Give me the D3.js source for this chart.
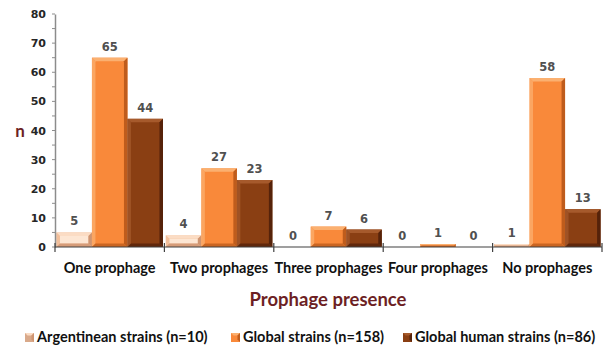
<!DOCTYPE html>
<html>
<head>
<meta charset="utf-8">
<script src="https://cdn.jsdelivr.net/npm/d3@7"></script>
<style>
  html, body { margin: 0; padding: 0; background: #fff; }
  svg { display: block; }
</style>
</head>
<body>
<svg id="chart" width="615" height="350"></svg>
<script>
// Prophage counts per strain group
const categories = ["One prophage", "Two prophages", "Three prophages", "Four prophages", "No prophages"];
const seriesNames = ["Argentinean strains (n=10)", "Global strains (n=158)", "Global human strains (n=86)"];
const argentinean = [5, 4, 0, 0, 1];
const globalStrains = [65, 27, 7, 1, 58];
const globalHuman = [44, 23, 6, 0, 13];
const yTicks = [0, 10, 20, 30, 40, 50, 60, 70, 80];

const seriesValues = [argentinean, globalStrains, globalHuman];

// face / light edge / dark edge per series
const palette = [
  { face: "#f1bf9b", light: "#fbdcc4", dark: "#cf9470", inner: "#fde6d3" },
  { face: "#f9893a", light: "#fbb070", dark: "#bf5c1c", inner: "#f9893a" },
  { face: "#8a3f13", light: "#a65a2c", dark: "#55220a", inner: "#8a3f13" }
];

const svg = d3.select("#chart");
const margin = { left: 55, right: 13, top: 14, bottom: 103 };
const W = 615, H = 350;
const plotBottom = H - margin.bottom;

const x = d3.scaleBand().domain(categories).range([margin.left, W - margin.right]).paddingInner(0).paddingOuter(0);
const inner = d3.scaleBand().domain(d3.range(seriesNames.length)).range([0, x.bandwidth()]).paddingOuter(0.04).paddingInner(0);
const y = d3.scaleLinear().domain([0, 80]).range([plotBottom, margin.top]);

const numFont = "'DejaVu Sans', Verdana, sans-serif";
const txtFont = "Lato, 'Open Sans', sans-serif";

// bars with bevelled edges
const bev = 3.5;
categories.forEach((cat, ci) => {
  seriesValues.forEach((vals, si) => {
    const v = vals[ci];
    const x0 = x(cat) + inner(si);
    const w = inner.bandwidth();
    const y0 = y(v), y1 = y(0);
    const h = y1 - y0;
    const c = palette[si];
    const g = svg.append("g");
    if (h > 0) {
      const b = Math.min(bev, h / 2, w / 2);
      g.append("rect").attr("x", x0).attr("y", y0).attr("width", w).attr("height", h).attr("fill", c.face);
      if (si === 0 && h > 2 * b + 1) {
        g.append("rect").attr("x", x0 + b).attr("y", y0 + b).attr("width", w - 2 * b).attr("height", h - 2 * b).attr("fill", c.inner);
      }
      // top bevel
      g.append("polygon").attr("points", [[x0, y0], [x0 + w, y0], [x0 + w - b, y0 + b], [x0 + b, y0 + b]].join(" ")).attr("fill", c.light);
      // left bevel
      g.append("polygon").attr("points", [[x0, y0], [x0 + b, y0 + b], [x0 + b, y1 - b], [x0, y1]].join(" ")).attr("fill", si === 0 ? c.face : c.light).attr("opacity", 0.75);
      // right bevel
      g.append("polygon").attr("points", [[x0 + w, y0], [x0 + w, y1], [x0 + w - b, y1 - b], [x0 + w - b, y0 + b]].join(" ")).attr("fill", c.dark);
      // bottom bevel
      g.append("polygon").attr("points", [[x0, y1], [x0 + b, y1 - b], [x0 + w - b, y1 - b], [x0 + w, y1]].join(" ")).attr("fill", c.dark).attr("opacity", 0.8);
    }
    // value label
    svg.append("text")
      .attr("x", x0 + w / 2)
      .attr("y", y0 - 7)
      .attr("text-anchor", "middle")
      .attr("font-family", numFont)
      .attr("font-weight", "bold")
      .attr("font-size", 11.5)
      .attr("fill", "#505050")
      .text(v);
  });
});

// y axis
const yAxis = d3.axisLeft(y).tickValues(yTicks).tickSize(0).tickPadding(9);
const yg = svg.append("g").attr("transform", `translate(${margin.left},0)`).call(yAxis);
yg.select(".domain").attr("stroke", "#8c8c8c").attr("stroke-width", 1.5);
yg.selectAll("text").attr("font-family", numFont).attr("font-weight", "bold").attr("font-size", 11).attr("fill", "#262626");
// minor ticks every 5
svg.append("g").selectAll("line").data(d3.range(0, 81, 5)).join("line")
  .attr("x1", margin.left - 3).attr("x2", margin.left)
  .attr("y1", d => y(d)).attr("y2", d => y(d))
  .attr("stroke", "#8c8c8c").attr("stroke-width", 1);

// x axis
const xg = svg.append("g").attr("transform", `translate(0,${plotBottom})`);
xg.append("line").attr("x1", margin.left).attr("x2", W - margin.right).attr("y1", 0).attr("y2", 0)
  .attr("stroke", "#404040").attr("stroke-width", 1.2);
const bounds = categories.map(c => x(c)).concat([x(categories[categories.length - 1]) + x.bandwidth()]);
xg.selectAll("line.tick").data(bounds).join("line").attr("class", "tick")
  .attr("x1", d => d).attr("x2", d => d).attr("y1", -4).attr("y2", 5)
  .attr("stroke", "#404040").attr("stroke-width", 1.2);
xg.selectAll("text").data(categories).join("text")
  .attr("x", d => x(d) + x.bandwidth() / 2)
  .attr("y", 26)
  .attr("text-anchor", "middle")
  .attr("font-family", txtFont).attr("font-weight", "bold").attr("font-size", 14.5)
  .attr("fill", "#111")
  .text(d => d);

// axis titles
svg.append("text").attr("x", 20).attr("y", 137).attr("text-anchor", "middle")
  .attr("font-family", txtFont).attr("font-weight", "bold").attr("font-size", 17)
  .attr("fill", "#6d1f24").text("n");
svg.append("text").attr("x", 328).attr("y", 306).attr("text-anchor", "middle")
  .attr("font-family", txtFont).attr("font-weight", "bold").attr("font-size", 18.5)
  .attr("fill", "#6d1f24").text("Prophage presence");

// legend
const legendX = [25, 231, 403];
const lg = svg.append("g");
seriesNames.forEach((name, i) => {
  const c = palette[i];
  const gx = legendX[i], gy = 333;
  lg.append("rect").attr("x", gx).attr("y", gy).attr("width", 9).attr("height", 9).attr("fill", i === 0 ? "#d9a98a" : c.face);
  lg.append("polygon").attr("points", [[gx, gy], [gx + 9, gy], [gx + 6.5, gy + 2.5], [gx + 2.5, gy + 2.5]].join(" ")).attr("fill", c.light);
  lg.append("polygon").attr("points", [[gx + 9, gy], [gx + 9, gy + 9], [gx + 6.5, gy + 6.5], [gx + 6.5, gy + 2.5]].join(" ")).attr("fill", c.dark);
  lg.append("text").attr("x", gx + 12).attr("y", 342)
    .attr("font-family", txtFont).attr("font-weight", "bold").attr("font-size", 14.5)
    .attr("fill", "#111").text(name);
});
</script>
</body>
</html>
